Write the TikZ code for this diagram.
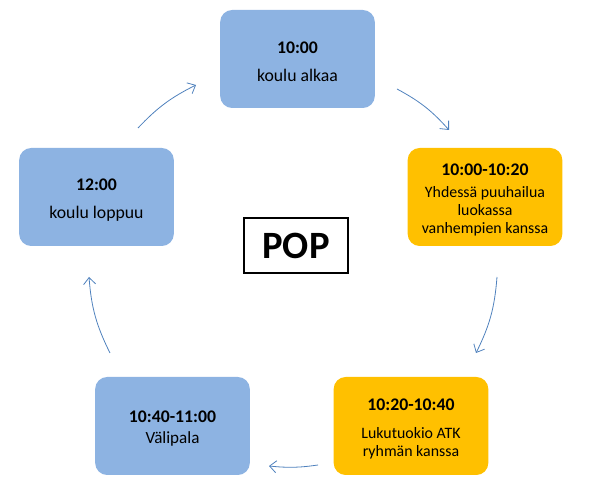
\documentclass[tikz,border=0pt]{standalone}
\usepackage{fontspec}
\setmainfont{Carlito}
\usepackage{tikz}
\usetikzlibrary{positioning,arrows.meta}

\definecolor{sininen}{RGB}{141,179,226}
\definecolor{oranssi}{RGB}{255,192,0}
\definecolor{nuoli}{RGB}{79,129,189}

% kellonaika laatikon ylarivilla
\newcommand{\aika}[1]{\rule{0pt}{13pt}{\fontsize{13.3}{13.5}\selectfont\bfseries #1}}

\begin{document}
\begin{tikzpicture}[
	x=0.75pt, y=0.75pt,
	laatikko/.style={rectangle, draw=none, rounded corners=9pt,
		minimum width=116pt, minimum height=73.5pt, inner sep=2pt,
		text centered, align=center, text=black,
		font=\fontsize{13.3}{13.5}\selectfont},
	sininen laatikko/.style={laatikko, fill=sininen},
	oranssi laatikko/.style={laatikko, fill=oranssi,
		font=\fontsize{11.9}{13.5}\selectfont},
	pop/.style={rectangle, draw=black, line width=1.5pt,
		minimum width=78pt, minimum height=41.5pt,
		font=\fontsize{29}{32}\selectfont\bfseries},
	kaari/.style={draw=nuoli, line width=0.6pt,
		-{Straight Barb[length=5pt,width=9pt,line width=0.6pt]}}
	]
	\useasboundingbox (0,0) rectangle (612,503);
	% laatikot
	\node (alku) [sininen laatikko] at (297.5,444)
		{\aika{10:00}\\[7.5pt]koulu alkaa};
	\node (yhdessa) [oranssi laatikko] at (485,306)
		{\aika{10:00-10:20}\\[3pt]Yhdessä puuhailua\\luokassa\\vanhempien kanssa};
	\node (atk) [oranssi laatikko] at (411,77)
		{\aika{10:20-10:40}\\[8pt]Lukutuokio ATK\\ryhmän kanssa};
	\node (valipala) [sininen laatikko, font=\fontsize{12.8}{13.5}\selectfont] at (172.5,77)
		{\aika{10:40-11:00}\\[2.25pt]Välipala};
	\node (loppu) [sininen laatikko] at (96.5,306)
		{\aika{12:00}\\[7.5pt]koulu loppuu};
	\node (p) [pop] at (296,257.5) {POP};
	% nuolten päät
	\coordinate (n1a) at (397,414);
	\coordinate (n1b) at (449,373);
	\coordinate (n2a) at (497,226);
	\coordinate (n2b) at (476,150);
	\coordinate (n3a) at (318,38);
	\coordinate (n3b) at (269,37);
	\coordinate (n4a) at (110,150);
	\coordinate (n4b) at (89,226);
	\coordinate (n5a) at (138,375);
	\coordinate (n5b) at (196,418);
	\foreach \a/\b/\k in {n1a/n1b/10,n2a/n2b/11,n3a/n3b/7,n4a/n4b/11,n5a/n5b/10}
		\draw[kaari] (\a) to[bend left=\k] (\b);
\end{tikzpicture}
\end{document}
